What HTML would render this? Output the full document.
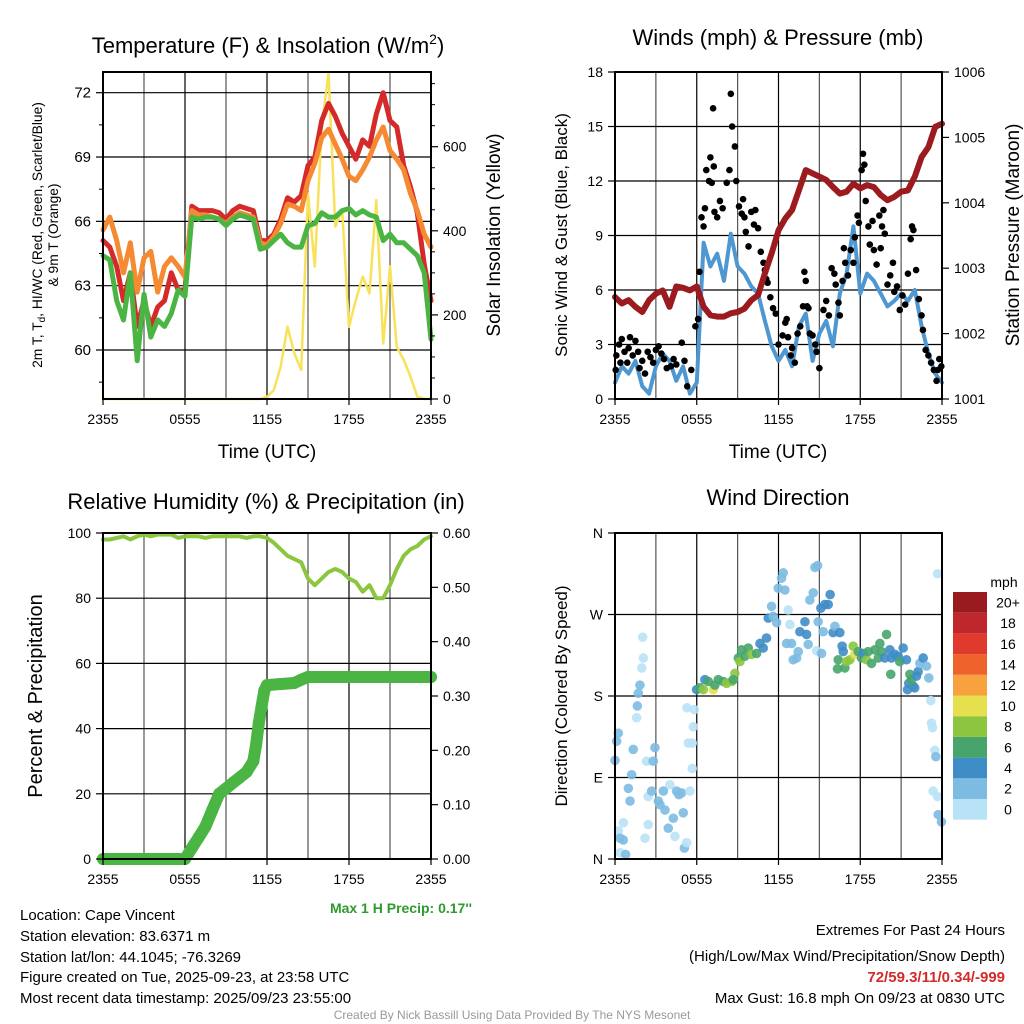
<!DOCTYPE html>
<html><head><meta charset="utf-8"><style>
html,body{margin:0;padding:0;background:#fff;}
svg{display:block;font-family:"Liberation Sans",sans-serif;}
</style></head><body>
<svg id="chart" width="1024" height="1024" viewBox="0 0 1024 1024" xmlns="http://www.w3.org/2000/svg">
<g id="layer-grid"></g>
<g id="layer-marks"></g>
<g id="layer-axes"></g>
<g id="layer-text" font-family="Liberation Sans, sans-serif" fill="#000">
<text x="268" y="53" font-size="22" text-anchor="middle">Temperature (F) &amp; Insolation (W/m<tspan font-size="14" dy="-9">2</tspan><tspan dy="9">)</tspan></text>
<text x="778" y="45" font-size="22" text-anchor="middle">Winds (mph) &amp; Pressure (mb)</text>
<text x="266" y="509" font-size="22" text-anchor="middle">Relative Humidity (%) &amp; Precipitation (in)</text>
<text x="778" y="505" font-size="22" text-anchor="middle">Wind Direction</text>
<text x="267" y="458" font-size="19" text-anchor="middle">Time (UTC)</text>
<text x="778" y="458" font-size="19" text-anchor="middle">Time (UTC)</text>
<text transform="translate(42,235) rotate(-90)" font-size="13.8" text-anchor="middle">2m T, T<tspan font-size="10" dy="3">d</tspan><tspan dy="-3">, HI/WC (Red, Green, Scarlet/Blue)</tspan></text>
<text transform="translate(58,235) rotate(-90)" font-size="13.8" text-anchor="middle">&amp; 9m T (Orange)</text>
<text transform="translate(500,235) rotate(-90)" font-size="19" text-anchor="middle">Solar Insolation (Yellow)</text>
<text transform="translate(567,235) rotate(-90)" font-size="17" text-anchor="middle">Sonic Wind &amp; Gust (Blue, Black)</text>
<text transform="translate(1019,235) rotate(-90)" font-size="19" text-anchor="middle">Station Pressure (Maroon)</text>
<text transform="translate(42,696) rotate(-90)" font-size="20" text-anchor="middle">Percent &amp; Precipitation</text>
<text transform="translate(567,696) rotate(-90)" font-size="17" text-anchor="middle">Direction (Colored By Speed)</text>
<text x="472" y="913" font-size="14" font-weight="bold" fill="#2e9a2e" text-anchor="end">Max 1 H Precip: 0.17''</text>
<g font-size="15">
<text x="20" y="920">Location: Cape Vincent</text>
<text x="20" y="941">Station elevation: 83.6371 m</text>
<text x="20" y="962">Station lat/lon: 44.1045; -76.3269</text>
<text x="20" y="982">Figure created on Tue, 2025-09-23, at 23:58 UTC</text>
<text x="20" y="1003">Most recent data timestamp: 2025/09/23 23:55:00</text>
</g>
<g font-size="15" text-anchor="end">
<text x="1005" y="935">Extremes For Past 24 Hours</text>
<text x="1005" y="961">(High/Low/Max Wind/Precipitation/Snow Depth)</text>
<text x="1005" y="982" font-weight="bold" fill="#d42a2a">72/59.3/11/0.34/-999</text>
<text x="1005" y="1003">Max Gust: 16.8 mph On 09/23 at 0830 UTC</text>
</g>
<text x="512" y="1019" font-size="12" fill="#999" text-anchor="middle">Created By Nick Bassill Using Data Provided By The NYS Mesonet</text>
</g>
</svg>
<script>
// ---------- DATA ----------
const timeTicks = ["2355","0555","1155","1755","2355"];
const halfHours = [0,0.5,1,1.5,2,2.5,3,3.5,4,4.5,5,5.5,6,6.5,7,7.5,8,8.5,9,9.5,10,10.5,11,11.5,12,12.5,13,13.5,14,14.5,15,15.5,16,16.5,17,17.5,18,18.5,19,19.5,20,20.5,21,21.5,22,22.5,23,23.5,24];
const temp2m = [65.1,64.8,63.9,62.3,63.6,61.1,62.3,61.1,62.0,62.3,63.6,62.8,62.8,66.7,66.5,66.5,66.5,66.4,66.1,66.5,66.7,66.6,66.5,65.1,65.1,65.4,66.1,67.1,66.9,67.2,68.6,69.0,70.7,71.5,70.9,70.1,69.5,68.9,69.8,69.5,71.0,72.0,70.7,70.4,68.6,67.6,66.4,64.0,62.3];
const temp9m = [65.6,66.2,65.1,63.6,65.0,62.7,64.3,64.6,62.7,63.9,64.3,63.9,63.4,66.5,66.3,66.3,66.2,66.1,65.9,66.2,66.4,66.3,66.2,65.0,64.9,65.3,65.9,66.8,66.7,66.5,67.9,68.7,69.9,70.3,69.6,68.9,68.1,67.9,68.4,69.0,69.8,70.4,69.3,68.9,68.4,67.3,66.5,65.4,64.8];
const dewpoint = [64.4,64.2,62.3,61.4,63.6,59.5,62.6,60.6,61.4,61.1,61.7,62.8,62.5,66.2,66.1,66.2,66.2,66.1,65.8,66.1,66.3,66.2,66.1,64.7,64.8,65.1,65.4,65.0,64.8,64.8,65.8,65.9,66.4,66.2,66.2,66.5,66.6,66.3,66.5,66.3,66.2,65.1,65.4,65.0,65.0,64.7,64.4,63.6,60.5];
const solar = [0,0,0,0,0,0,0,0,0,0,0,0,0,0,0,0,0,0,0,0,0,0,0,0,5,21,77,172,109,69,489,315,648,775,410,449,172,235,291,251,473,132,315,124,93,53,6,0,0];
const tempTicks = [60,63,66,69,72];
const solarTicks = [0,200,400,600];
const windSpeed = [0.9,1.8,1.4,2.1,0.7,0.3,1.8,2.5,2.1,1.0,1.8,0.3,0.9,8.6,7.3,8.0,6.5,9.1,7.3,6.9,6.2,5.8,4.3,2.9,2.1,2.7,1.8,4.0,4.7,2.1,3.6,4.3,2.9,5.8,6.9,9.5,5.8,6.9,6.5,5.8,5.1,5.4,5.8,5.4,6.0,4.0,2.5,1.4,0.9];
const pressure = [1002.56,1002.46,1002.51,1002.41,1002.33,1002.51,1002.61,1002.66,1002.41,1002.72,1002.70,1002.66,1002.72,1002.41,1002.28,1002.26,1002.26,1002.31,1002.33,1002.38,1002.51,1002.59,1002.92,1003.23,1003.58,1003.76,1003.89,1004.19,1004.50,1004.45,1004.40,1004.35,1004.24,1004.14,1004.17,1004.29,1004.22,1004.27,1004.24,1004.12,1004.04,1004.09,1004.17,1004.19,1004.40,1004.70,1004.85,1005.16,1005.21];
const gustHours = [0.05,0.1,0.3,0.4,0.5,0.7,0.9,1.0,1.1,1.3,1.5,1.7,1.8,2.0,2.2,2.4,2.6,2.8,3.0,3.2,3.4,3.6,3.8,4.1,4.3,4.5,4.9,5.1,5.3,5.6,5.9,6.1,6.2,6.35,6.5,6.6,6.7,6.9,7.0,7.1,7.2,7.25,7.3,7.5,7.7,7.9,8.2,8.4,8.5,8.6,8.8,8.9,9.1,9.3,9.4,9.5,9.6,9.8,10.0,10.2,10.3,10.5,10.7,10.9,11.0,11.1,11.2,11.4,11.6,11.8,12.0,12.3,12.5,12.6,12.7,12.9,13.0,13.2,13.4,13.6,13.8,13.9,14.0,14.1,14.2,14.3,14.5,14.7,14.8,15.0,15.3,15.5,15.7,15.9,16.1,16.2,16.4,16.5,16.7,16.8,16.9,17.1,17.3,17.5,17.6,17.8,17.9,18.1,18.2,18.3,18.4,18.6,18.7,18.9,19.0,19.2,19.4,19.5,19.6,19.7,19.8,20.0,20.2,20.4,20.5,20.7,20.9,21.1,21.3,21.5,21.7,21.8,21.9,22.1,22.3,22.5,22.6,22.8,23.0,23.2,23.4,23.6,23.7,23.8,23.95];
const gustSpeeds = [1.6,2.4,3.0,2.0,3.3,2.6,2.0,2.8,3.4,2.4,3.2,2.6,1.7,2.1,1.4,2.6,2.3,2.0,2.7,2.9,2.5,2.2,1.7,1.8,2.2,1.9,3.1,2.1,0.7,1.6,4.0,4.4,7.0,10.0,9.5,10.5,12.6,12.0,13.3,11.9,16.0,12.8,10.3,10.0,10.9,10.5,11.9,12.6,16.8,15.0,13.9,12.0,10.6,10.2,11.0,10.0,9.2,8.4,10.3,9.6,10.4,9.4,8.1,7.5,7.1,6.6,6.4,5.6,5.0,4.7,3.0,3.5,4.2,4.4,3.4,2.4,2.8,2.0,3.6,4.0,5.1,7.0,6.5,5.1,5.0,3.6,3.5,3.0,2.6,1.7,4.9,5.4,4.6,7.2,6.9,6.3,5.3,4.6,6.5,8.3,7.5,6.8,8.2,7.5,8.9,10.1,9.7,12.6,13.5,12.9,10.9,9.5,8.5,9.8,8.2,7.4,10.1,8.3,9.5,10.4,9.1,6.3,6.8,7.5,5.9,6.2,4.9,5.7,5.2,6.9,8.8,9.5,9.3,7.1,5.5,4.6,3.8,2.7,2.4,2.0,1.6,1.0,1.6,2.2,1.8];
const windTicks = [0,3,6,9,12,15,18];
const pressureTicks = [1001,1002,1003,1004,1005,1006];
const rhValues = [98,98,98.5,99,98,99,99.5,99,99.5,99.5,99.5,98.5,99,99,99,98.5,99,99,99,99,99,98.5,99,99,98.5,97,95,93,92,91,86,84,86,88,89,88,86,85,82,84,80,80,84,89,93,95,96,98,99];
const precipHours = [0,1,2,3,4,5,6,6.5,7,7.5,8,8.5,9,9.5,10,10.5,11,11.2,11.4,11.6,11.8,12,13,14,14.5,15,16,18,20,22,24];
const precipValues = [0,0,0,0,0,0,0,0.02,0.04,0.06,0.09,0.12,0.13,0.14,0.15,0.16,0.18,0.21,0.25,0.28,0.31,0.32,0.322,0.324,0.33,0.335,0.335,0.335,0.335,0.335,0.335];
const rhTicks = [0,20,40,60,80,100];
const precipTicks = ["0.00","0.10","0.20","0.30","0.40","0.50","0.60"];
const dirHours = [0.24,0.12,0.0,0.24,0.37,0.61,0.37,0.78,0.61,0.98,1.1,1.22,1.34,1.59,1.64,1.71,1.83,1.96,2.08,2.03,2.32,2.44,2.44,2.2,2.69,2.81,2.93,3.18,3.3,3.55,3.67,3.91,4.03,4.28,4.4,4.52,4.69,4.89,5.01,5.09,5.26,5.5,5.38,5.67,5.75,5.67,5.28,5.82,
5.99,6.23,6.6,6.48,6.85,7.21,7.33,7.58,7.95,8.19,8.56,8.8,8.68,9.05,9.17,9.29,9.54,9.78,10.02,10.39,10.64,10.88,11.12,
11.25,11.61,11.49,11.86,11.98,12.22,12.35,12.47,12.71,12.84,12.59,12.96,13.08,13.33,13.45,13.57,13.94,14.18,14.06,14.3,14.55,14.67,14.87,14.91,15.11,15.28,15.4,15.65,15.79,16.01,16.14,16.5,16.67,16.75,14.79,15.16,
16.33,16.38,16.87,16.99,17.24,17.48,17.6,17.85,18.09,18.22,18.46,18.58,18.83,19.07,19.32,19.44,19.56,19.8,19.93,20.17,20.29,20.24,20.54,20.78,20.9,21.15,21.39,21.64,21.56,21.76,21.88,22.0,22.13,22.25,22.37,22.62,22.86,23.03,21.47,
23.18,23.23,23.3,23.47,23.55,23.35,23.67,23.72,23.96,23.67];
const dirDegrees = [139,130,109,31,23,21,7,5,40,78,64,93,121,156,169,183,192,211,222,245,108,69,38,23,75,108,123,64,60,75,54,34,82,45,25,75,71,73,51,12,18,75,128,128,146,100,167,165,
187,189,198,187,196,187,192,198,196,194,196,205,198,222,218,231,224,233,226,227,238,233,244,
266,268,279,261,299,310,316,297,275,259,238,238,220,222,229,251,262,237,248,286,294,322,324,262,277,251,281,281,292,250,257,250,235,229,230,227,
210,220,211,218,220,235,226,229,222,227,220,229,216,231,222,238,229,222,248,231,222,204,226,224,218,233,220,204,194,198,191,189,202,207,216,222,213,200,187,
175,150,145,120,113,75,69,49,41,315];
const dirSpeeds = [3,3,3,1,3,3,1,3,1,3,3,3,3,1,3,3,3,1,1,1,1,1,1,1,3,3,3,3,3,3,3,3,1,3,1,3,3,3,3,3,1,1,1,1,1,1,1,1,
5,7,5,9,7,11,7,7,7,9,9,9,7,7,9,7,7,7,9,7,5,5,5,
5,3,3,3,3,3,3,3,1,1,3,3,3,3,3,5,5,3,5,3,3,3,3,3,5,3,5,5,5,5,3,5,5,5,1,3,
7,7,7,9,9,9,11,7,7,5,9,7,7,7,7,7,7,5,7,5,5,7,5,5,7,5,5,7,5,7,7,5,5,5,3,5,3,3,5,
1,1,1,1,3,1,1,3,3,1];
const dirLabels = ["N","E","S","W","N"];
const speedBins = ["0","2","4","6","8","10","12","14","16","18","20+"];
const speedColors = ["#b8e2f6","#7dbbe3","#3f8dc7","#47a56b","#8cc63f","#e6df4e","#f7a13f","#f0622b","#e03a2f","#c0272d","#9a1b1f"];

// ---------- HELPERS ----------
const NS="http://www.w3.org/2000/svg";
const G=id=>document.getElementById(id);
function mk(tag,attrs,parent){const e=document.createElementNS(NS,tag);for(const k in attrs)e.setAttribute(k,attrs[k]);parent.appendChild(e);return e;}
function lin(d0,d1,r0,r1){return v=>r0+(v-d0)*(r1-r0)/(d1-d0);}
const grid=G('layer-grid'),marks=G('layer-marks'),axes=G('layer-axes');

function panel(name,x0,x1,y0,y1){
  const xs=lin(0,24,x0,x1);
  for(let h=3;h<24;h+=3){
    const l=mk('line',{x1:xs(h),x2:xs(h),y1:y0,y2:y1,stroke:(h%6===0)?'#000':'#555','stroke-width':1.2},grid);
    
    
  }
  const r=mk('rect',{x:x0,y:y0,width:x1-x0,height:y1-y0,fill:'none',stroke:'#000','stroke-width':2},axes);
  
  
  timeTicks.forEach((t,i)=>{
    const x=xs(i*6);
    mk('line',{x1:x,x2:x,y1:y1,y2:y1+6,stroke:'#000','stroke-width':1.2},axes);
    const tx=mk('text',{x:x,y:y1+25,'font-size':14,'text-anchor':'middle'},axes);
    tx.textContent=t;
    
    
  });
  return xs;
}
function hgrid(name,x0,x1,y){
  const l=mk('line',{x1:x0,x2:x1,y1:y,y2:y,stroke:'#000','stroke-width':1.2},grid);
  
  
}
function leftLabel(name,x,y,t,size){
  mk('line',{x1:x-7,x2:x,y1:y,y2:y,stroke:'#000','stroke-width':1.2},axes);
  const e=mk('text',{x:x-12,y:y+5,'font-size':size||14,'text-anchor':'end'},axes);
  e.textContent=t;
  
  
}
function rightLabel(name,x,y,t){
  mk('line',{x1:x,x2:x+7,y1:y,y2:y,stroke:'#000','stroke-width':1.2},axes);
  const e=mk('text',{x:x+12,y:y+5,'font-size':14,'text-anchor':'start'},axes);
  e.textContent=t;
  
  
}
function path(xs,ys,xv,yv,color,w,name){
  let d='';xv.forEach((v,i)=>{d+=(i?'L':'M')+xs(v).toFixed(1)+','+ys(yv[i]).toFixed(1);});
  const p=mk('path',{d:d,fill:'none',stroke:color,'stroke-width':w,'stroke-linejoin':'round','stroke-linecap':'round'},marks);
  
  
  return p;
}

// ---------- PANEL 1: Temperature ----------
{
  const x0=103,x1=431,y0=72,y1=399;
  const xs=panel('temp',x0,x1,y0,y1);
  const ty=lin(60,72,350,92.7);
  const sy=lin(0,600,399,146.7);
  tempTicks.forEach(t=>{hgrid('temp',x0,x1,ty(t));leftLabel('temp-y-tick-label',x0,ty(t),String(t),15);});
  for(let v=58.5;v<73;v+=1.5){if(v%3)mk('line',{x1:x0-4,x2:x0,y1:ty(v),y2:ty(v),stroke:'#000'},axes);}
  solarTicks.forEach(t=>rightLabel('solar-y-tick-label',x1,sy(t),String(t)));
  for(let v=50;v<760;v+=50){if(v%200)mk('line',{x1:x1,x2:x1+4,y1:sy(v),y2:sy(v),stroke:'#000'},axes);}
  path(xs,sy,halfHours,solar,'#f7e25a',2.5,'solar-line');
  path(xs,ty,halfHours,temp2m,'#d42a2a',5,'temp-2m-line');
  path(xs,ty,halfHours,temp9m,'#f58a33',5,'temp-9m-line');
  path(xs,ty,halfHours,dewpoint,'#4bb543',5,'dewpoint-line');
}
// ---------- PANEL 2: Winds ----------
{
  const x0=615,x1=942,y0=72,y1=399;
  const xs=panel('wind',x0,x1,y0,y1);
  const wy=lin(0,18,399,72);
  const py=lin(1001,1006,399,72);
  windTicks.forEach(t=>{if(t>0&&t<18)hgrid('wind',x0,x1,wy(t));leftLabel('wind-y-tick-label',x0,wy(t),String(t));});
  pressureTicks.forEach(t=>rightLabel('pressure-y-tick-label',x1,py(t),String(t)));
  path(xs,wy,halfHours,windSpeed,'#4f97d1',4,'wind-speed-line');
  gustHours.forEach((h,i)=>{
    const c=mk('circle',{cx:xs(h),cy:wy(gustSpeeds[i]),r:3.3,fill:'#000'},marks);
    
    
  });
  path(xs,py,halfHours,pressure,'#9b1b1f',6,'pressure-line');
}
// ---------- PANEL 3: RH & Precip ----------
{
  const x0=103,x1=431,y0=533,y1=859;
  const xs=panel('rh',x0,x1,y0,y1);
  const ry=lin(0,100,859,533);
  const py=lin(0,0.6,859,533);
  rhTicks.forEach(t=>{if(t>0&&t<100)hgrid('rh',x0,x1,ry(t));leftLabel('rh-y-tick-label',x0,ry(t),String(t));});
  precipTicks.forEach(t=>rightLabel('precip-y-tick-label',x1,py(parseFloat(t)),t));
  path(xs,ry,halfHours,rhValues,'#8cc63f',4,'rh-line');
  path(xs,py,precipHours,precipValues,'#4bb543',12,'precip-line');
  precipHours.forEach((h,i)=>{
    const c=mk('circle',{cx:xs(h),cy:py(precipValues[i]),r:6,fill:'#4bb543'},marks);
    
    
  });
}
// ---------- PANEL 4: Wind direction ----------
{
  const x0=615,x1=942,y0=533,y1=859;
  const xs=panel('dir',x0,x1,y0,y1);
  const dy=lin(0,360,859,533);
  dirLabels.forEach((t,i)=>{if(i>0&&i<4)hgrid('dir',x0,x1,dy(i*90));leftLabel('dir-y-tick-label',x0,dy(i*90),t);});
  const colorFor=s=>speedColors[Math.min(10,Math.floor(s/2))];
  dirHours.forEach((h,i)=>{
    const c=mk('circle',{cx:xs(h),cy:dy(dirDegrees[i]),r:4.8,fill:colorFor(dirSpeeds[i]),'fill-opacity':0.9},marks);
    
    
  });
  const bx=953,bw=34,btop=592,bh=20.7;
  const lt=mk('text',{x:1004,y:587,'font-size':14,'text-anchor':'middle'},axes);
  lt.textContent='mph';
  
  
  speedBins.forEach((b,i)=>{
    const k=10-i;
    const y=btop+k*bh;
    const r=mk('rect',{x:bx,y:y,width:bw,height:bh,fill:speedColors[i]},axes);
    
    
    const t=mk('text',{x:1008,y:y+bh/2+5,'font-size':14,'text-anchor':'middle'},axes);
    t.textContent=b;
    
    
  });
}
</script>
</body></html>
